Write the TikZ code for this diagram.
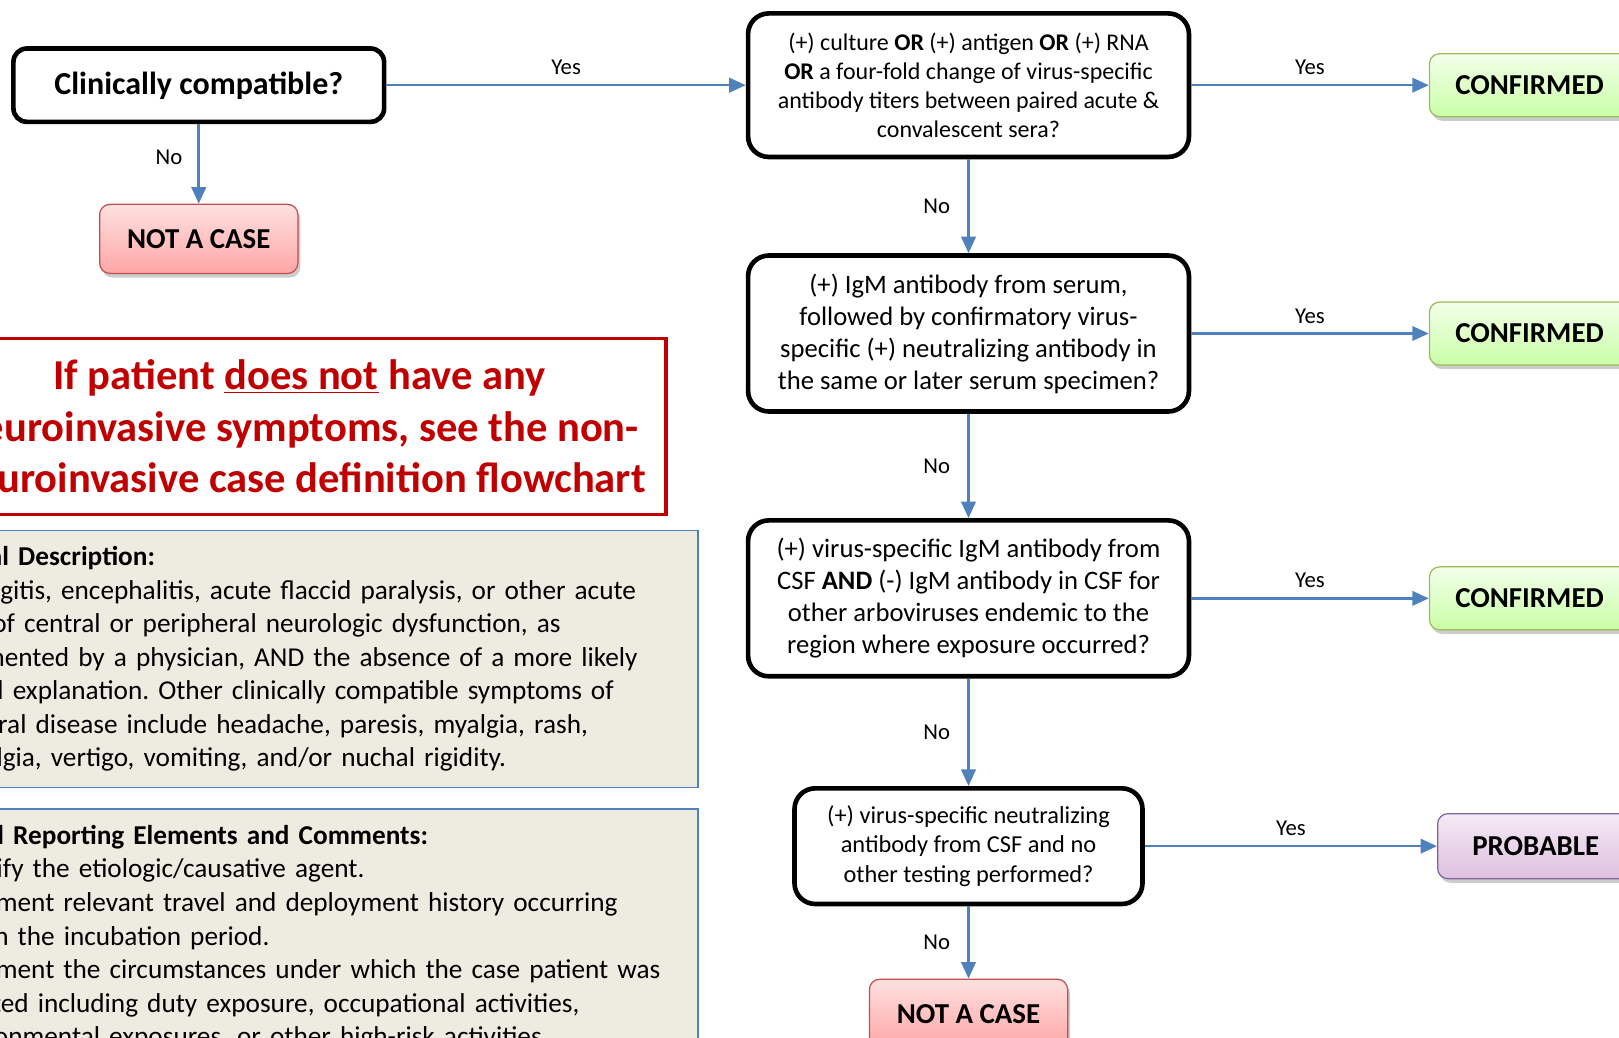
\documentclass[tikz,border=0pt]{standalone}
\usepackage{fontspec}
\setmainfont{Carlito}
\usetikzlibrary{positioning,shadows,arrows.meta}
\frenchspacing

\definecolor{flowblue}{HTML}{4F81BD}
\definecolor{warnred}{HTML}{C00000}
\definecolor{infofill}{HTML}{EEECE1}
\definecolor{notedge}{HTML}{C0504D}
\definecolor{yesedge}{HTML}{9BBB59}
\definecolor{probedge}{HTML}{8064A2}

\begin{document}
\begin{tikzpicture}[x=0.5pt, y=0.5pt,
				question/.style={rectangle, rounded corners=10pt, draw=black, line width=2.25pt, fill=white, align=center, inner sep=0pt, minimum width=213.5pt},
				startbox/.style={rectangle, rounded corners=6.5pt, draw=black, line width=2.25pt, fill=white, font=\bfseries\fontsize{15.5}{18}\selectfont, minimum width=179.5pt, minimum height=35.5pt, text depth=2pt},
				result/.style={rectangle, rounded corners=5pt, line width=0.6pt, font=\bfseries\fontsize{14}{17}\selectfont, minimum height=30.5pt, drop shadow={shadow xshift=1.2pt, shadow yshift=-2pt, fill=black, opacity=0.2}},
				notcase/.style={result, draw=notedge, top color=red!12, bottom color=red!35, minimum width=96pt, minimum height=33.5pt},
				confirmed/.style={result, draw=yesedge, top color=green!60!yellow!8, bottom color=green!60!yellow!35, minimum width=97pt},
				probable/.style={result, draw=probedge, top color=violet!8, bottom color=violet!25, minimum width=95pt, minimum height=31.5pt},
				warnbox/.style={rectangle, draw=warnred, line width=1.5pt, text=warnred, align=center, font=\bfseries\fontsize{20.6}{25}\selectfont, minimum width=355pt, minimum height=85pt},
				infobox/.style={rectangle, draw=flowblue, line width=0.8pt, fill=infofill, align=left, anchor=north west, font=\fontsize{13.2}{16.25}\selectfont, minimum height=124.5pt},
				answer/.style={font=\fontsize{11}{13}\selectfont, text=black}
			]
			\useasboundingbox (0,0) rectangle (1568,-1005);
			\clip (0,0) rectangle (1568,-1005);
			% left side
			\node[startbox] (start) at (192.5,-82.5) {Clinically compatible?};
			\node[notcase] (nocase) [below=38.5pt of start] {NOT A CASE};
			\node[warnbox] (warning) at (290,-413) {If patient \underline{does not} have any\\ neuroinvasive symptoms, see the non-\\ neuroinvasive case definition flowchart};
			\node[infobox, inner xsep=25pt, text width=347.5pt] (clinical) at (-120,-513) {\textbf{Clinical Description:}\\
				Meningitis, encephalitis, acute flaccid paralysis, or other acute\\
				signs of central or peripheral neurologic dysfunction, as\\
				documented by a physician, AND the absence of a more likely\\
				clinical explanation. Other clinically compatible symptoms of\\
				arboviral disease include headache, paresis, myalgia, rash,\\
				arthralgia, vertigo, vomiting, and/or nuchal rigidity.};
			\node[infobox, inner xsep=4.5pt, text width=388.5pt] (reporting) at (-120,-783) {\textbf{Additional Reporting Elements and Comments:}\\
				\makebox[25.5pt][l]{1.}Identify the etiologic/causative agent.\\
				\makebox[25.5pt][l]{2.}Document relevant travel and deployment history occurring\\
				\hspace*{25.5pt}within the incubation period.\\
				\makebox[25.5pt][l]{3.}Document the circumstances under which the case patient was\\
				\hspace*{25.5pt}infected including duty exposure, occupational activities,\\
				\hspace*{25.5pt}environmental exposures, or other high-risk activities.};
			% main column
			\node[question, minimum height=69.5pt, font=\fontsize{11.6}{14}\selectfont] (culture) at (938,-82.5) {(+) culture \textbf{OR} (+) antigen \textbf{OR} (+) RNA\\ \textbf{OR} a four-fold change of virus-specific\\ antibody titers between paired acute \&\\ convalescent sera?};
			\node[question, minimum height=75.5pt, font=\fontsize{12.9}{15.5}\selectfont] (igm) [below=45.5pt of culture] {(+) IgM antibody from serum,\\ followed by confirmatory virus-\\ specific (+) neutralizing antibody in\\ the same or later serum specimen?};
			\node[question, minimum height=75.5pt, font=\fontsize{12.9}{15.5}\selectfont] (csf) [below=50.5pt of igm] {(+) virus-specific IgM antibody from\\ CSF \textbf{AND} (-) IgM antibody in CSF for\\ other arboviruses endemic to the\\ region where exposure occurred?};
			\node[question, minimum width=168.5pt, minimum height=56pt, font=\fontsize{11.8}{14.25}\selectfont] (neutral) [below=52pt of csf] {(+) virus-specific neutralizing\\ antibody from CSF and no\\ other testing performed?};
			\node[notcase] (nocasetwo) [below=35pt of neutral] {NOT A CASE};
			% outcomes
			\node[confirmed] (confone) [right=115pt of culture] {CONFIRMED};
			\node[confirmed] (conftwo) [right=115pt of igm] {CONFIRMED};
			\node[confirmed] (confthree) [right=115pt of csf] {CONFIRMED};
			\node[probable] (prob) [right=141.5pt of neutral] {PROBABLE};
			\begin{scope}[flowblue, line width=1.25pt, -{Triangle[length=8pt, width=7pt]}]
			\draw (start.east) -- node[answer, above=1pt] {Yes} (culture.west);
			\draw (start.south) -- node[answer, left=4pt, pos=0.42] {No} (nocase.north);
			\draw (culture.east) -- node[answer, above=1pt] {Yes} (confone.west);
			\draw (culture.south) -- node[answer, left=5pt] {No} (igm.north);
			\draw (igm.east) -- node[answer, above=1pt] {Yes} (conftwo.west);
			\draw (igm.south) -- node[answer, left=5pt] {No} (csf.north);
			\draw (csf.east) -- node[answer, above=1pt] {Yes} (confthree.west);
			\draw (csf.south) -- node[answer, left=5pt] {No} (neutral.north);
			\draw (neutral.east) -- node[answer, above=1pt] {Yes} (prob.west);
			\draw (neutral.south) -- node[answer, left=5pt] {No} (nocasetwo.north);
			\end{scope}
			\end{tikzpicture}
\end{document}
